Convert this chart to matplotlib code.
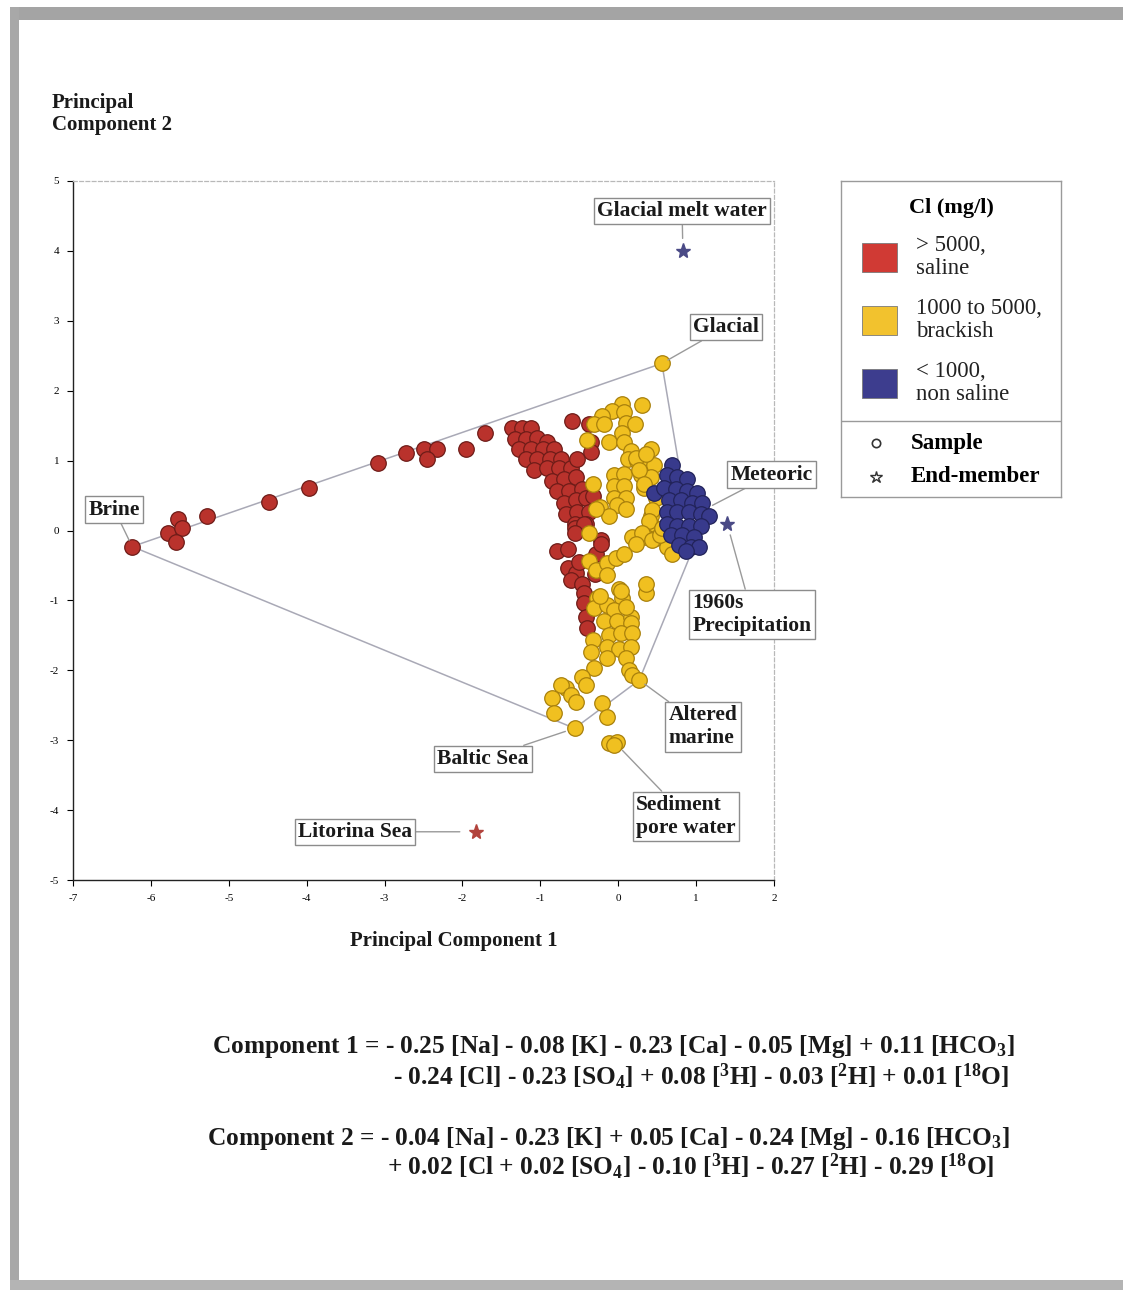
import matplotlib
matplotlib.use("Agg")
import matplotlib.pyplot as plt
from matplotlib.patches import Rectangle

plt.rcParams.update({
    "font.family": ["Liberation Serif", "DejaVu Serif"],
    "mathtext.fontset": "custom",
    "mathtext.rm": "Liberation Serif:bold",
    "mathtext.it": "Liberation Serif:bold:italic",
    "mathtext.bf": "Liberation Serif:bold",
    "mathtext.default": "rm",
    "axes.unicode_minus": False,
})

# ---- sample scores (PC1, PC2), grouped by chloride class ----
saline_pc1 = [-6.24, -5.78, -5.65, -5.60, -5.68, -5.28, -4.49, -3.97, -3.08, -2.73,
              -2.49, -2.33, -2.45, -1.95, -1.71,
              -1.37, -1.24, -1.12, -1.33, -1.18, -1.04, -0.91, -1.27, -1.12, -0.97,
              -0.82, -1.18, -1.04, -0.88, -0.73, -1.08, -0.91, -0.76, -0.60, -0.53,
              -0.85, -0.69, -0.54, -0.78, -0.63, -0.47, -0.69, -0.54, -0.41, -0.67,
              -0.53, -0.37, -0.56, -0.41, -0.59, -0.35, -0.37, -0.33, -0.35,
              -0.79, -0.65, -0.56, -0.44, -0.22, -0.28, -0.65, -0.54, -0.60, -0.47,
              -0.44, -0.44, -0.41, -0.40, -0.56, -0.22, -0.50, -0.30]
saline_pc2 = [-0.23, -0.03, 0.17, 0.03, -0.17, 0.21, 0.41, 0.61, 0.96, 1.11,
              1.17, 1.17, 1.03, 1.17, 1.39,
              1.46, 1.47, 1.46, 1.31, 1.31, 1.33, 1.26, 1.17, 1.17, 1.17,
              1.17, 1.03, 1.03, 1.03, 1.03, 0.86, 0.89, 0.89, 0.90, 1.03,
              0.71, 0.74, 0.76, 0.57, 0.57, 0.60, 0.40, 0.43, 0.46, 0.24,
              0.26, 0.26, 0.10, 0.10, 1.57, 1.26, 1.53, 0.50, 1.13,
              -0.29, -0.26, 0.04, 0.10, -0.14, -0.33, -0.53, -0.61, -0.71, -0.76,
              -0.90, -1.04, -1.24, -1.39, -0.04, -0.19, -0.45, -0.62]

brackish_pc1 = [0.56,
                0.05, 0.31, -0.08, 0.08, -0.21, -0.31, -0.18, 0.10, 0.21, -0.40,
                -0.12, 0.05, 0.08, 0.17, 0.42, 0.12, 0.24, 0.36, 0.46, -0.05,
                0.08, 0.29, 0.42, -0.33, -0.05, 0.08, 0.33, -0.05, 0.10, -0.24,
                -0.01, 0.10, -0.12, 0.42, 0.44, -0.37, 0.18, 0.36, 0.49, -0.28,
                0.23, 0.36, 0.27, 0.33, 0.49, 0.44, 0.40, 0.31, 0.23, 0.44,
                0.62, 0.53, 0.69, 0.56,
                -0.37, -0.28, -0.14, -0.03, 0.08, -0.15, 0.01, 0.05, -0.27, -0.31,
                -0.15, -0.05, -0.18, -0.01, 0.17,
                -0.24, 0.04, 0.36, 0.36, 0.10, 0.17, -0.33, -0.12, 0.04, 0.18,
                -0.35, -0.15, 0.01, 0.17, -0.14, 0.10, -0.31, 0.14, -0.46, 0.18,
                0.27, -0.41, -0.67, -0.73, -0.60, -0.85, -0.54, -0.82, -0.21, -0.14,
                -0.56, -0.12, -0.01, -0.05]
brackish_pc2 = [2.39,
                1.81, 1.79, 1.71, 1.69, 1.64, 1.53, 1.53, 1.54, 1.53, 1.29,
                1.26, 1.39, 1.26, 1.14, 1.17, 1.03, 1.00, 0.93, 0.93, 0.79,
                0.81, 0.79, 0.76, 0.67, 0.64, 0.64, 0.61, 0.47, 0.47, 0.33,
                0.36, 0.31, 0.21, 0.21, 0.07, -0.04, -0.10, -0.10, -0.11, 0.31,
                1.04, 1.10, 0.86, 0.67, 0.47, 0.29, 0.14, -0.04, -0.19, -0.14,
                -0.24, -0.07, -0.33, 0.03,
                -0.43, -0.57, -0.47, -0.40, -0.33, -0.64, -0.83, -0.97, -0.96, -1.11,
                -1.07, -1.14, -1.29, -1.29, -1.24,
                -0.93, -0.86, -0.90, -0.76, -1.10, -1.33, -1.57, -1.50, -1.47, -1.47,
                -1.74, -1.67, -1.69, -1.67, -1.83, -1.83, -1.97, -2.00, -2.10, -2.07,
                -2.14, -2.21, -2.26, -2.21, -2.36, -2.40, -2.46, -2.61, -2.47, -2.67,
                -2.83, -3.04, -3.03, -3.07]

fresh_pc1 = [0.69, 0.62, 0.76, 0.88, 0.46, 0.59, 0.74, 0.88, 1.01, 0.65,
             0.81, 0.95, 1.08, 0.62, 0.76, 0.91, 1.06, 1.17, 0.62, 0.76,
             0.91, 1.06, 0.68, 0.82, 0.97, 0.78, 0.94, 1.04, 0.87]
fresh_pc2 = [0.93, 0.79, 0.76, 0.74, 0.54, 0.61, 0.60, 0.57, 0.54, 0.43,
             0.43, 0.40, 0.39, 0.26, 0.26, 0.26, 0.24, 0.21, 0.10, 0.07,
             0.07, 0.07, -0.07, -0.07, -0.10, -0.21, -0.24, -0.24, -0.29]

# ---- end-members not represented by samples ----
endmember_names = ["Glacial melt water", "1960s\nPrecipitation", "Litorina Sea"]
endmember_pc1 = [0.83, 1.40, -1.82]
endmember_pc2 = [4.00, 0.09, -4.31]
endmember_colors = ["#4a4a86", "#4a4a86", "#b2433c"]

# ---- mixing polygon: Brine - Glacial - Meteoric - Altered marine - Baltic Sea ----
poly_pc1 = [-6.24, 0.56, 0.96, 0.27, -0.56, -6.24]
poly_pc2 = [-0.23, 2.39, -0.26, -2.14, -2.83, -0.23]

# labelled points: (text, point, label centre, gap at point)
callouts = [
    ("Glacial melt water", (0.83, 4.00), (0.82, 4.57), 9),
    ("Glacial", (0.56, 2.39), (1.38, 2.91), 5),
    ("Meteoric", (1.21, 0.36), (1.97, 0.80), 0),
    ("1960s\nPrecipitation", (1.40, 0.09), (1.72, -1.20), 8),
    ("Brine", (-6.24, -0.23), (-6.47, 0.30), 5),
    ("Altered\nmarine", (0.27, -2.14), (1.09, -2.81), 5),
    ("Baltic Sea", (-0.56, -2.83), (-1.74, -3.27), 7),
    ("Sediment\npore water", (-0.02, -3.06), (0.87, -4.09), 6),
    ("Litorina Sea", (-1.82, -4.31), (-3.38, -4.31), 12),
]

legend_classes = ["> 5000,\nsaline", "1000 to 5000,\nbrackish", "< 1000,\nnon saline"]
fill_colors = ["#b9322c", "#f0c020", "#383a8c"]
edge_colors = ["#6e1c18", "#a8800c", "#22235a"]
legend_patch = ["#d03a34", "#f2c22e", "#3d3d8e"]

W, H = 1123, 1290
fig = plt.figure(figsize=(W / 100, H / 100), dpi=100)
fig.patch.set_facecolor("white")

# page frame
frame = fig.add_axes([0, 0, 1, 1])
frame.set_xlim(0, W)
frame.set_ylim(H, 0)
frame.axis("off")
frame.add_patch(Rectangle((10, 7), W - 10, 13, color="#a4a4a4", lw=0))
frame.add_patch(Rectangle((10, 7), 9, H - 7, color="#a8a8a8", lw=0))
frame.add_patch(Rectangle((10, 1280), W - 10, 10, color="#b4b4b4", lw=0))

ax = fig.add_axes([73 / W, 410 / H, 701 / W, 699 / H])
ax.set_xlim(-7, 2)
ax.set_ylim(-5, 5)
ax.set_xticks(range(-7, 3))
ax.set_yticks(range(-5, 6))
ax.tick_params(labelsize=8, length=4, width=0.8, direction="out", pad=6)
for s in ("left", "bottom"):
    ax.spines[s].set_color("#222222")
    ax.spines[s].set_linewidth(1.0)
for s in ("top", "right"):
    ax.spines[s].set_color("#b8b8b8")
    ax.spines[s].set_linewidth(0.9)
    ax.spines[s].set_linestyle((0, (3, 2)))

ax.plot(poly_pc1, poly_pc2, color="#a9a9b6", lw=1.1, zorder=1)

groups = [(saline_pc1, saline_pc2), (brackish_pc1, brackish_pc2), (fresh_pc1, fresh_pc2)]
for (px, py), fc, ec in zip(groups, fill_colors, edge_colors):
    ax.scatter(px, py, s=125, c=fc, edgecolors=ec, linewidths=0.9, zorder=3)

for x, y, c in zip(endmember_pc1, endmember_pc2, endmember_colors):
    ax.plot(x, y, marker="*", ms=11, color=c, mec=c, lw=0, zorder=4)

for text, xy, xyt, shrink in callouts:
    ax.annotate(text, xy=xy, xytext=xyt, textcoords="data",
                ha="center", va="center", multialignment="left",
                fontsize=15.5, fontweight="bold", color="#1a1a1a",
                bbox=dict(boxstyle="square,pad=0.15", fc="white", ec="#8c8c8c", lw=1.0),
                arrowprops=dict(arrowstyle="-", color="#9a9a9a", lw=1.0,
                                shrinkA=0, shrinkB=shrink),
                annotation_clip=False, zorder=5)

fig.text(52 / W, 1 - 93 / H, "Principal\nComponent 2", ha="left", va="top",
         fontsize=15, fontweight="bold", color="#1a1a1a", linespacing=1.15)
fig.text(454 / W, 1 - 941 / H, "Principal Component 1", ha="center", va="center",
         fontsize=15, fontweight="bold", color="#1a1a1a")

# ---- legend panel ----
lg = fig.add_axes([841 / W, 1 - 497 / H, 220 / W, 316 / H])
lg.set_xlim(841, 1061)
lg.set_ylim(497, 181)
lg.set_xticks([])
lg.set_yticks([])
for s in lg.spines.values():
    s.set_color("#9a9a9a")
    s.set_linewidth(1.0)
lg.text(951, 208, "Cl (mg/l)", ha="center", va="center", fontsize=16, fontweight="bold")
for i, (lab, col) in enumerate(zip(legend_classes, legend_patch)):
    y0 = 243 + i * 63
    lg.add_patch(Rectangle((862, y0), 35, 29, fc=col, ec="#7a7a7a", lw=0.6))
    lg.text(916, y0 + 14, lab, ha="left", va="center", fontsize=16.5, linespacing=1.1,
            color="#222222")
lg.plot([841, 1061], [421, 421], color="#9a9a9a", lw=1.0)
lg.plot([876], [443], marker="o", ms=6, mfc="white", mec="#333333", mew=1.2)
lg.plot([876], [477], marker="*", ms=9, mfc="white", mec="#333333", mew=1.0)
lg.text(911, 443, "Sample", ha="left", va="center", fontsize=16.5, fontweight="bold")
lg.text(911, 477, "End-member", ha="left", va="center", fontsize=16.5, fontweight="bold")

# ---- component loadings ----
eq_lines = [
    (212, 1047, r"Component 1 = - 0.25 [Na] - 0.08 [K] - 0.23 [Ca] - 0.05 [Mg] + 0.11 [HCO$_3$]"),
    (393, 1077, r"- 0.24 [Cl] - 0.23 [SO$_4$] + 0.08 [$^3$H] - 0.03 [$^2$H] + 0.01 [$^{18}$O]"),
    (207, 1138, r"Component 2 = - 0.04 [Na] - 0.23 [K] + 0.05 [Ca] - 0.24 [Mg] - 0.16 [HCO$_3$]"),
    (387, 1167, r"+ 0.02 [Cl + 0.02 [SO$_4$] - 0.10 [$^3$H] - 0.27 [$^2$H] - 0.29 [$^{18}$O]"),
]
for x, y, s in eq_lines:
    fig.text(x / W, 1 - y / H, s, ha="left", va="center", fontsize=18.3,
             fontweight="bold", color="#1a1a1a")

fig.savefig("out.png", dpi=100)
